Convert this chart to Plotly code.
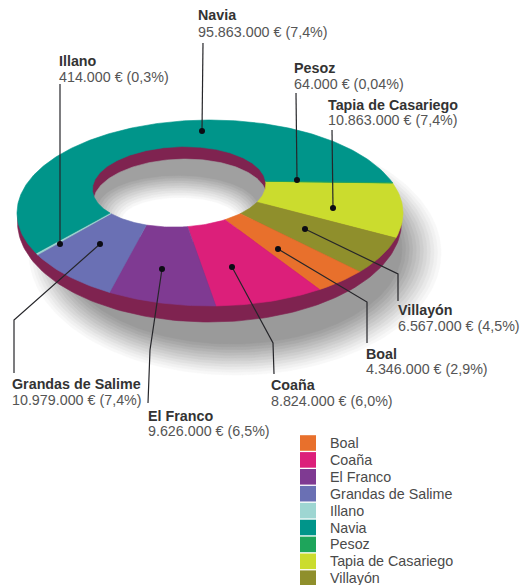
import numpy as np
import plotly.graph_objects as go

# ---- data (legend / alphabetical order) ----
CATEGORIES = ["Boal", "Coaña", "El Franco", "Grandas de Salime", "Illano", "Navia", "Pesoz", "Tapia de Casariego", "Villayón"]
VALUES = [4346000, 8824000, 9626000, 10979000, 414000, 95863000, 64000, 10863000, 6567000]
PERCENT_TEXT = ["2,9%", "6,0%", "6,5%", "7,4%", "0,3%", "7,4%", "0,04%", "7,4%", "4,5%"]
COLORS = ["#e8702c", "#dc1f7a", "#7f3a92", "#6a70b4", "#9ed6d2", "#00958a", "#1ea55b", "#cbdc2e", "#8f8f2c"]
WALL = "#7f2350"
SHADOW_STEPS = ["#f8f8f8", "#f1f1f1", "#e9e9e9", "#e0e0e0", "#d7d7d7", "#cecece",
                "#c5c5c5", "#bcbcbc", "#b3b3b3", "#aaaaaa", "#a2a2a2", "#9a9a9a"]
FLOOR_STEPS = ["#a0a0a0", "#aaaaaa", "#b4b4b4", "#bebebe", "#c8c8c8", "#d2d2d2",
               "#dcdcdc", "#e5e5e5", "#eeeeee", "#f7f7f7", "#ffffff"]

# ---- layout constants ----
W, H = 520, 585
CX, CY, RX, RY = 210, 213, 193, 93      # outer rim on screen
APEX = np.array([-0.202, -0.355])       # projected pie centre (normalised)
HOLE = 0.49
START_DEG = 4.0
DRAW_ORDER = [7, 8, 0, 1, 2, 3, 4, 5, 6]
FONT = "Liberation Sans"

# label anchor: x, name y, value y
LABEL_POS = {
    "Navia": (198, 15, 31.5), "Illano": (59, 61, 77), "Pesoz": (293.5, 68, 83.5),
    "Tapia de Casariego": (328, 104.5, 120), "Villayón": (398, 310, 326),
    "Boal": (366, 353.5, 369), "Coaña": (271, 385, 401),
    "Grandas de Salime": (12, 384, 400), "El Franco": (148, 416, 431),
}
# callout paths, first point carries the dot
LEADERS = {
    "Navia": [(202, 131), (203, 43)], "Illano": [(60, 244), (60, 84)],
    "Pesoz": [(297, 180), (296, 93)], "Tapia de Casariego": [(333, 208), (332, 130)],
    "Villayón": [(305, 229), (398, 274), (398, 301)],
    "Boal": [(278, 249), (367, 302), (367, 343)],
    "Coaña": [(232, 267), (273, 343), (274, 374)],
    "El Franco": [(162, 269), (150, 350), (148, 403)],
    "Grandas de Salime": [(100, 244), (14, 320), (14, 373)],
}


def project(r, phi):
    """Pie plane (polar) to screen, a projective map of the disc."""
    p = np.stack([r * np.cos(phi), r * np.sin(phi)], axis=-1)
    w = APEX
    w2 = w @ w
    g = 1 / np.sqrt(1 - w2)
    d = p @ w
    k = (g - 1) * d / w2 + g
    q = p + k[..., None] * w
    t = g * (1 + d)
    return CX + RX * q[..., 0] / t, CY + RY * q[..., 1] / t


def ellipse(cx, cy, rx, ry, n=240):
    t = np.linspace(0, 2 * np.pi, n)
    return cx + rx * np.cos(t), cy + ry * np.sin(t)


def poly(fig, x, y, color, name=None):
    x = [float(v) for v in x] + [float(x[0])]
    y = [float(v) for v in y] + [float(y[0])]
    fig.add_trace(go.Scatter(x=x, y=y, mode="lines", fill="toself", fillcolor=color,
                             line=dict(color=color, width=0.6), name=name or "",
                             hoverinfo="name" if name else "skip", showlegend=False))


fig = go.Figure()

# cast shadow in fine steps, large and light to small and dark
for i, col in enumerate(SHADOW_STEPS):
    u = i / (len(SHADOW_STEPS) - 1)
    poly(fig, *ellipse(235 - 3 * u, 253 - 4 * u, 206 - 36 * u, 122 - 27 * u), col)

# outer wall
poly(fig, *ellipse(209.5, 222, 192, 100), WALL)

# hole: inner wall, then shaded floor
all_phi = np.linspace(0, 2 * np.pi, 200)
hx, hy = project(np.full_like(all_phi, HOLE), all_phi)
poly(fig, hx, hy, WALL)
poly(fig, hx + 1, hy + 12.5, FLOOR_STEPS[0])
for i, col in enumerate(FLOOR_STEPS[1:]):
    u = i / (len(FLOOR_STEPS) - 2)
    poly(fig, *ellipse(178 + 2 * u, 208 + 12 * u, 80 - 22 * u, 32 - 10 * u), col)

# top surface, one ring sector per municipality
total = sum(VALUES)
phi0 = np.deg2rad(START_DEG)
for idx in DRAW_ORDER:
    sweep = 2 * np.pi * VALUES[idx] / total
    n = max(3, int(np.degrees(sweep)) + 2)
    ph = np.linspace(phi0, phi0 + sweep, n)
    ox, oy = project(np.ones_like(ph), ph)
    ix, iy = project(np.full_like(ph, HOLE), ph)
    poly(fig, np.r_[ox, ix[::-1]], np.r_[oy, iy[::-1]], COLORS[idx], CATEGORIES[idx])
    phi0 += sweep

annotations, shapes = [], []


def text(x, y, s, size=14.3, color="#4a4a4a"):
    annotations.append(dict(x=x, y=y, xref="x", yref="y", text=s, showarrow=False, xanchor="left",
                            yanchor="middle", xshift=-2, font=dict(family=FONT, size=size, color=color)))


for name, val, pct in zip(CATEGORIES, VALUES, PERCENT_TEXT):
    x, y1, y2 = LABEL_POS[name]
    text(x, y1, f"<b>{name}</b>", color="#333333")
    text(x, y2, f"{val:,}".replace(",", ".") + f" € ({pct})", color="#555555")
    pts = LEADERS[name]
    path = "M " + " L ".join(f"{a} {b}" for a, b in pts)
    shapes.append(dict(type="path", path=path, xref="x", yref="y", line=dict(color="#26262a", width=1.2)))
    dx, dy = pts[0]
    shapes.append(dict(type="circle", xref="x", yref="y", x0=dx - 3, x1=dx + 3, y0=dy - 3, y1=dy + 3,
                       fillcolor="#0c0c14", line=dict(width=0)))

# legend
for i, (name, col) in enumerate(zip(CATEGORIES, COLORS)):
    y = 443 + 16.9 * i
    shapes.append(dict(type="rect", xref="x", yref="y", x0=300, x1=316, y0=y - 7.8, y1=y + 7.8,
                       fillcolor=col, line=dict(width=0)))
    text(330, y, name, color="#4a4a4a")

fig.update_layout(
    width=W, height=H, margin=dict(l=0, r=0, t=0, b=0), autosize=False,
    paper_bgcolor="white", plot_bgcolor="white", showlegend=False,
    xaxis=dict(range=[0, W], visible=False, fixedrange=True),
    yaxis=dict(range=[H, 0], visible=False, fixedrange=True),
    annotations=annotations, shapes=shapes,
)
fig.write_html("out.html", config=dict(displayModeBar=False),
               post_script="document.body.style.margin='0';")
